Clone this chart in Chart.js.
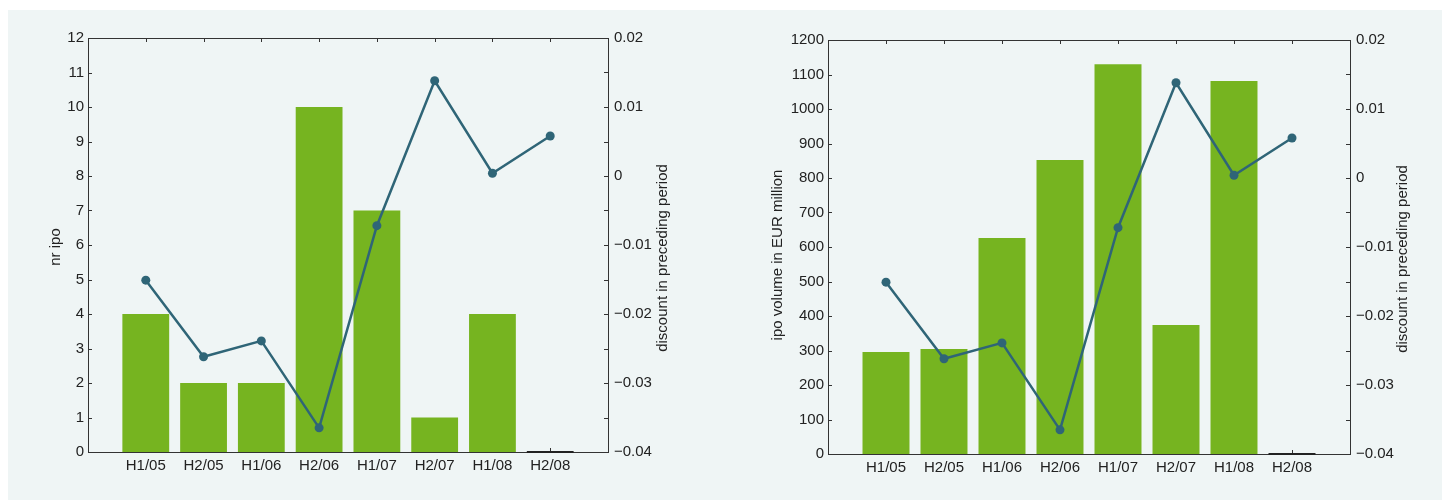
<!DOCTYPE html>
<html>
<head>
<meta charset="utf-8">
<script src="https://cdn.jsdelivr.net/npm/chart.js@4/dist/chart.umd.min.js"></script>
<style>
  body { margin: 0; background: #fff; }
  #panel { position: absolute; left: 8px; top: 10px; width: 1434px; height: 490px; background: #eff5f5; }
  canvas { position: absolute; top: 0; }
  #c1 { left: 0; }
  #c2 { left: 720px; }
</style>
</head>
<body>
<div id="panel"></div>
<canvas id="c1" width="720" height="500"></canvas>
<canvas id="c2" width="722" height="500"></canvas>
<script>
const periods = ['H1/05', 'H2/05', 'H1/06', 'H2/06', 'H1/07', 'H2/07', 'H1/08', 'H2/08'];
const nrIpo = [4, 2, 2, 10, 7, 1, 4, 0];
const ipoVolume = [296, 304, 626, 852, 1130, 374, 1081, 0];
const discount = [-0.0151, -0.0262, -0.0239, -0.0365, -0.0072, 0.0138, 0.0004, 0.0058];

const FONT = '"Liberation Sans", Arial, Helvetica, sans-serif';
const FSIZE = 15;
const GREEN = '#76b420';
const TEAL = '#2f6577';
const TEXT = '#222';

function fmtDiscount(v) {
  const r = Math.round(v * 100) / 100;
  if (r === 0) return '0';
  return r < 0 ? '\u2212' + Math.abs(r).toString() : r.toString();
}

// frame, inward ticks and axis titles
const framePlugin = {
  id: 'frame',
  beforeDatasetsDraw(chart, args, opts) {
    const { ctx, chartArea: a, scales } = chart;
    ctx.save();
    ctx.strokeStyle = '#333';
    ctx.lineWidth = 1;
    ctx.beginPath();
    for (let v = 1; v <= periods.length; v++) {
      const x = Math.round(scales.x.getPixelForValue(v)) + 0.5;
      ctx.moveTo(x, a.bottom); ctx.lineTo(x, a.bottom - 4);
      ctx.moveTo(x, a.top); ctx.lineTo(x, a.top + 4);
    }
    scales.y.ticks.forEach(t => {
      const y = Math.round(scales.y.getPixelForValue(t.value)) + 0.5;
      ctx.moveTo(a.left, y); ctx.lineTo(a.left + 4, y);
    });
    for (let k = -8; k <= 4; k++) {
      const y = Math.round(scales.y1.getPixelForValue(k * 0.005)) + 0.5;
      ctx.moveTo(a.right, y); ctx.lineTo(a.right - 4, y);
    }
    ctx.stroke();
    ctx.strokeRect(Math.round(a.left) + 0.5, Math.round(a.top) + 0.5,
      Math.round(a.right - a.left), Math.round(a.bottom - a.top));
    ctx.restore();
  },
  afterDatasetsDraw(chart) {
    // zero-height bars show as a dark edge on the baseline
    const ctx = chart.ctx;
    const meta = chart.getDatasetMeta(1);
    ctx.save();
    ctx.strokeStyle = '#222';
    ctx.lineWidth = 2;
    meta.data.forEach((bar, i) => {
      if (chart.data.datasets[1].data[i].y !== 0) return;
      ctx.beginPath();
      ctx.moveTo(bar.x - bar.width / 2, bar.base);
      ctx.lineTo(bar.x + bar.width / 2, bar.base);
      ctx.stroke();
    });
    ctx.restore();
  },
  afterDraw(chart, args, opts) {
    const ctx = chart.ctx;
    ctx.save();
    ctx.fillStyle = TEXT;
    ctx.font = FSIZE + 'px ' + FONT;
    ctx.textAlign = 'center';
    ctx.textBaseline = 'alphabetic';
    opts.titles.forEach(t => {
      ctx.save();
      ctx.translate(t.x, t.y);
      ctx.rotate(-Math.PI / 2);
      ctx.fillText(t.text, 0, 0);
      ctx.restore();
    });
    ctx.restore();
  }
};

function makeChart(id, bars, yMax, yStep, fit, titles) {
  new Chart(document.getElementById(id), {
    type: 'bar',
    data: {
      datasets: [{
        type: 'line',
        data: periods.map((p, i) => ({ x: i + 1, y: discount[i] })),
        yAxisID: 'y1',
        borderColor: TEAL,
        backgroundColor: TEAL,
        borderWidth: 2.5,
        pointRadius: 4.5,
        pointBackgroundColor: TEAL,
        pointBorderWidth: 0,
        tension: 0,
        order: 0
      }, {
        type: 'bar',
        data: periods.map((p, i) => ({ x: i + 1, y: bars[i] })),
        yAxisID: 'y',
        backgroundColor: GREEN,
        borderWidth: 0,
        categoryPercentage: 0.9,
        barPercentage: 0.9,
        order: 1
      }]
    },
    options: {
      responsive: false,
      animation: false,
      layout: { padding: { top: fit.top, left: 0, right: 0, bottom: 0 } },
      plugins: {
        legend: { display: false },
        tooltip: { enabled: false },
        frame: { titles: titles }
      },
      scales: {
        x: {
          type: 'linear', min: 0, max: 9, offset: false,
          grid: { display: false, drawTicks: false }, border: { display: false },
          ticks: {
            stepSize: 1, autoSkip: false, maxRotation: 0, padding: 5,
            color: TEXT, font: { family: FONT, size: FSIZE },
            callback: v => periods[v - 1] || ''
          },
          afterFit: s => { s.height = fit.xh; }
        },
        y: {
          position: 'left', min: 0, max: yMax,
          grid: { display: false, drawTicks: false }, border: { display: false },
          ticks: { stepSize: yStep, padding: 4, color: TEXT, font: { family: FONT, size: FSIZE },
            callback: v => String(v) },
          afterFit: s => { s.width = fit.yl; }
        },
        y1: {
          position: 'right', min: -0.04, max: 0.02,
          grid: { display: false, drawTicks: false }, border: { display: false },
          ticks: { stepSize: 0.01, padding: 6, color: TEXT, font: { family: FONT, size: FSIZE },
            callback: v => fmtDiscount(v) },
          afterFit: s => { s.width = fit.yr; }
        }
      }
    },
    plugins: [framePlugin]
  });
}

makeChart('c1', nrIpo, 12, 1, { top: 38, xh: 48, yl: 88, yr: 112 }, [
  { text: 'nr ipo', x: 60, y: 247 },
  { text: 'discount in preceding period', x: 667, y: 258 }
]);
makeChart('c2', ipoVolume, 1200, 100, { top: 40, xh: 46, yl: 108, yr: 92 }, [
  { text: 'ipo volume in EUR million', x: 62, y: 255 },
  { text: 'discount in preceding period', x: 687, y: 259 }
]);
</script>
</body>
</html>
